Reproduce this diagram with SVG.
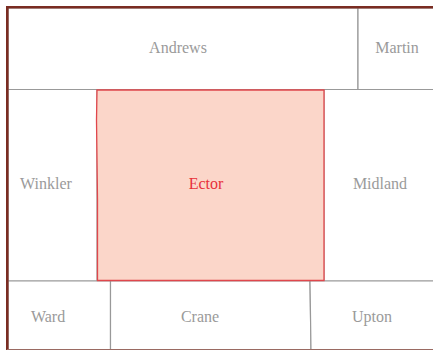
<svg xmlns="http://www.w3.org/2000/svg" width="433" height="350" viewBox="0 0 433 350">
<style>
.c{fill:#fff;stroke:#999;stroke-width:1.2}
.t{font-family:"Liberation Serif","DejaVu Serif","Times New Roman",serif;font-size:16px;fill:#9a9a9a;text-anchor:middle}
</style>
<rect width="433" height="350" fill="#fff"/>
<g id="andrews"><path class="c" d="M8 8H358V89.5H8Z"/><text class="t" x="178" y="53">Andrews</text></g>
<g id="martin"><path class="c" d="M358 8H434V89.5H358Z"/><text class="t" x="397" y="53">Martin</text></g>
<g id="winkler"><path class="c" d="M8 89.5H97V281H8Z"/><text class="t" x="46" y="189">Winkler</text></g>
<g id="midland"><path class="c" d="M324 89.5H434V281H324Z"/><text class="t" x="380" y="189">Midland</text></g>
<g id="ward"><path class="c" d="M8 281H110.5V350H8Z"/><text class="t" x="48" y="322">Ward</text></g>
<g id="crane"><path class="c" d="M110.5 281H310L311 350H110.5Z"/><text class="t" x="200" y="322">Crane</text></g>
<g id="upton"><path class="c" d="M310 281H434V350H311Z"/><text class="t" x="372" y="322">Upton</text></g>
<g id="ector"><path d="M97 90H324V280.5H97.5L97.5 200L96.5 120Z" fill="#fbd6c9" stroke="#e0474c" stroke-width="1.3"/><text class="t" x="206" y="189" style="fill:#e8303a">Ector</text></g>
<g id="frame" fill="none"><path d="M7.3 350V7.3H433" stroke="#7a2c22" stroke-width="2.6"/><path d="M7 349.5H433" stroke="#9a6a62" stroke-width="1"/></g>
</svg>
